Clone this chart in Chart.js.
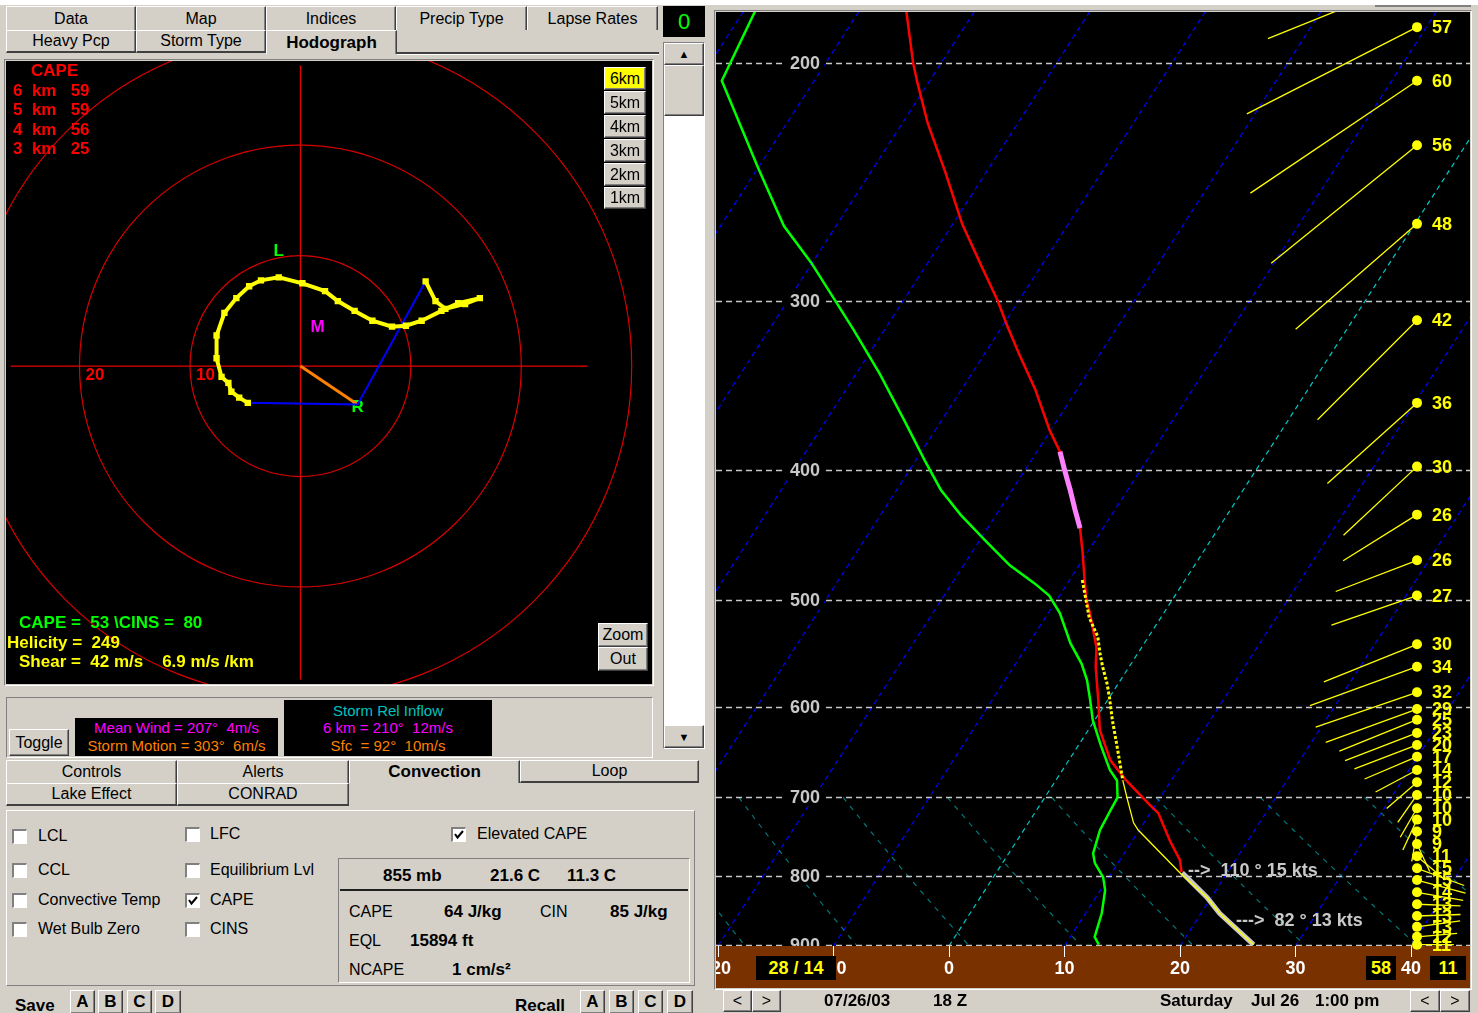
<!DOCTYPE html>
<html>
<head>
<meta charset="utf-8">
<title>Sounding - Hodograph</title>
<script src="https://cdn.jsdelivr.net/npm/chart.js@4.4.0/dist/chart.umd.min.js"></script>
<style>
  body{margin:0;width:1478px;height:1013px;background:#d4d0c8;position:relative;overflow:hidden;
       font-family:"Liberation Sans",Arial,sans-serif;color:#000;}
  .a{position:absolute;box-sizing:border-box;}
  .t{position:absolute;white-space:pre;line-height:1;}
  .b{font-weight:bold;}
  .raised{background:#d4d0c8;border-top:1px solid #fff;border-left:1px solid #fff;
          border-right:1px solid #404040;border-bottom:1px solid #404040;box-shadow:inset -1px -1px 0 #808080;}
  .sunken{border-top:1px solid #808080;border-left:1px solid #808080;border-right:1px solid #fff;border-bottom:1px solid #fff;}
  .btn{display:flex;align-items:center;justify-content:center;font-size:16px;}
  .tab{position:absolute;box-sizing:border-box;background:#d4d0c8;border-top:1px solid #fff;border-left:1px solid #fff;
       border-right:1px solid #404040;box-shadow:inset -1px 0 0 #808080;display:flex;align-items:center;justify-content:center;font-size:16px;}
  .cb{position:absolute;box-sizing:border-box;width:15px;height:15px;background:#fff;
      border-top:2px solid #808080;border-left:2px solid #808080;border-right:1px solid #fff;border-bottom:1px solid #fff;}
  .blk{position:absolute;box-sizing:border-box;background:#000;}
  canvas{position:absolute;display:block;}
</style>
</head>
<body>
<!-- window top strip -->
<div class="a" style="left:0;top:0;width:1478px;height:5px;background:#fff"></div>
<div class="a" style="left:1375px;top:5px;width:96px;height:2px;background:#808080"></div>

<!-- upper tab strip -->
<div class="tab" style="left:6px;top:6px;width:130px;height:24px">Data</div>
<div class="tab" style="left:136px;top:6px;width:130px;height:24px">Map</div>
<div class="tab" style="left:266px;top:6px;width:130px;height:24px">Indices</div>
<div class="tab" style="left:396px;top:6px;width:131px;height:24px">Precip Type</div>
<div class="tab" style="left:527px;top:6px;width:131px;height:24px">Lapse Rates</div>
<div class="tab" style="left:6px;top:30px;width:130px;height:23px;border-bottom:2px solid #404040">Heavy Pcp</div>
<div class="tab" style="left:136px;top:30px;width:130px;height:23px;border-bottom:2px solid #404040">Storm Type</div>
<div class="tab b" style="left:266px;top:30px;width:131px;height:24px;font-size:17px">Hodograph</div>
<div class="a" style="left:397px;top:52px;width:262px;height:2px;background:#404040"></div>
<div class="a" style="left:397px;top:54px;width:262px;height:1px;background:#fff"></div>

<div class="blk" style="left:663px;top:6px;width:42px;height:31px;display:flex;align-items:center;justify-content:center;color:#00ff00;font-size:22px">0</div>

<!-- hodograph display -->
<div class="a sunken" style="left:4px;top:59px;width:650px;height:627px"></div>
<canvas id="hodo" width="646" height="623" style="left:6px;top:61px"></canvas>

<div class="t b" style="left:31px;top:62px;font-size:17px;color:#ff0000">CAPE</div>
<div class="t b" style="left:13px;top:82px;font-size:17px;color:#ff0000">6  km   59</div>
<div class="t b" style="left:13px;top:101px;font-size:17px;color:#ff0000">5  km   59</div>
<div class="t b" style="left:13px;top:121px;font-size:17px;color:#ff0000">4  km   56</div>
<div class="t b" style="left:13px;top:140px;font-size:17px;color:#ff0000">3  km   25</div>

<div class="t b" style="left:19px;top:614px;font-size:17px;color:#00ff00">CAPE =  53 \CINS =  80</div>
<div class="t b" style="left:7px;top:634px;font-size:17px;color:#ffff00">Helicity =  249</div>
<div class="t b" style="left:19px;top:653px;font-size:17px;color:#ffff00">Shear =  42 m/s    6.9 m/s /km</div>

<!-- depth buttons -->
<div class="a raised btn" style="left:604px;top:67px;width:42px;height:23px;background:#ffff00">6km</div>
<div class="a raised btn" style="left:604px;top:91px;width:42px;height:23px">5km</div>
<div class="a raised btn" style="left:604px;top:115px;width:42px;height:23px">4km</div>
<div class="a raised btn" style="left:604px;top:139px;width:42px;height:23px">3km</div>
<div class="a raised btn" style="left:604px;top:163px;width:42px;height:23px">2km</div>
<div class="a raised btn" style="left:604px;top:187px;width:42px;height:22px">1km</div>
<div class="a raised btn" style="left:598px;top:623px;width:50px;height:24px">Zoom</div>
<div class="a raised btn" style="left:598px;top:647px;width:50px;height:24px">Out</div>

<!-- scroll bar -->
<div class="a sunken" style="left:663px;top:42px;width:42px;height:707px;background:#fff"></div>
<div class="a raised btn" style="left:664px;top:43px;width:40px;height:22px;font-size:11px">&#9650;</div>
<div class="a raised" style="left:664px;top:65px;width:40px;height:51px"></div>
<div class="a raised btn" style="left:664px;top:725px;width:40px;height:23px;font-size:11px">&#9660;</div>

<!-- storm motion panel -->
<div class="a sunken" style="left:6px;top:697px;width:647px;height:61px"></div>
<div class="a raised btn" style="left:9px;top:729px;width:60px;height:27px">Toggle</div>
<div class="blk" style="left:75px;top:718px;width:203px;height:38px"></div>
<div class="t" style="left:75px;top:720px;width:203px;text-align:center;font-size:15px;color:#ff00ff">Mean Wind = 207°  4m/s</div>
<div class="t" style="left:75px;top:738px;width:203px;text-align:center;font-size:15px;color:#ff8000">Storm Motion = 303°  6m/s</div>
<div class="blk" style="left:284px;top:700px;width:208px;height:56px"></div>
<div class="t" style="left:284px;top:703px;width:208px;text-align:center;font-size:15px;color:#00c0c0">Storm Rel Inflow</div>
<div class="t" style="left:284px;top:720px;width:208px;text-align:center;font-size:15px;color:#ff00ff">6 km = 210°  12m/s</div>
<div class="t" style="left:284px;top:738px;width:208px;text-align:center;font-size:15px;color:#ff8000">Sfc  = 92°  10m/s</div>

<!-- lower tab strip -->
<div class="tab" style="left:6px;top:760px;width:171px;height:23px">Controls</div>
<div class="tab" style="left:177px;top:760px;width:172px;height:23px">Alerts</div>
<div class="tab b" style="left:349px;top:760px;width:171px;height:23px;font-size:17px">Convection</div>
<div class="tab" style="left:520px;top:760px;width:179px;height:23px;border-bottom:2px solid #404040">Loop</div>
<div class="tab" style="left:6px;top:783px;width:171px;height:23px;border-bottom:2px solid #404040">Lake Effect</div>
<div class="tab" style="left:177px;top:783px;width:172px;height:23px;border-bottom:2px solid #404040">CONRAD</div>

<!-- convection options -->
<div class="a" style="left:6px;top:810px;width:689px;height:176px;border-top:1px solid #fff;border-left:1px solid #fff;border-right:1px solid #808080;border-bottom:1px solid #808080"></div>
<div class="cb" style="left:12px;top:829px"></div><div class="t" style="left:38px;top:828px;font-size:16px">LCL</div>
<div class="cb" style="left:12px;top:863px"></div><div class="t" style="left:38px;top:862px;font-size:16px">CCL</div>
<div class="cb" style="left:12px;top:893px"></div><div class="t" style="left:38px;top:892px;font-size:16px">Convective Temp</div>
<div class="cb" style="left:12px;top:922px"></div><div class="t" style="left:38px;top:921px;font-size:16px">Wet Bulb Zero</div>
<div class="cb" style="left:185px;top:827px"></div><div class="t" style="left:210px;top:826px;font-size:16px">LFC</div>
<div class="cb" style="left:185px;top:863px"></div><div class="t" style="left:210px;top:862px;font-size:16px">Equilibrium Lvl</div>
<div class="cb" style="left:185px;top:893px"><svg width="12" height="12" style="position:absolute;left:0;top:0"><polyline points="2,5 4.5,8.5 10,2" fill="none" stroke="#000" stroke-width="2"/></svg></div>
<div class="t" style="left:210px;top:892px;font-size:16px">CAPE</div>
<div class="cb" style="left:185px;top:922px"></div><div class="t" style="left:210px;top:921px;font-size:16px">CINS</div>
<div class="cb" style="left:451px;top:827px"><svg width="12" height="12" style="position:absolute;left:0;top:0"><polyline points="2,5 4.5,8.5 10,2" fill="none" stroke="#000" stroke-width="2"/></svg></div>
<div class="t" style="left:477px;top:826px;font-size:16px">Elevated CAPE</div>

<div class="a sunken" style="left:338px;top:858px;width:352px;height:125px"></div>
<div class="t b" style="left:383px;top:867px;font-size:17px">855 mb</div>
<div class="t b" style="left:490px;top:867px;font-size:17px">21.6 C</div>
<div class="t b" style="left:567px;top:867px;font-size:17px">11.3 C</div>
<div class="a" style="left:340px;top:889px;width:348px;height:2px;background:#202020"></div>
<div class="t" style="left:349px;top:904px;font-size:16px">CAPE</div>
<div class="t b" style="left:444px;top:903px;font-size:17px">64 J/kg</div>
<div class="t" style="left:540px;top:904px;font-size:16px">CIN</div>
<div class="t b" style="left:610px;top:903px;font-size:17px">85 J/kg</div>
<div class="t" style="left:349px;top:933px;font-size:16px">EQL</div>
<div class="t b" style="left:410px;top:932px;font-size:17px">15894 ft</div>
<div class="t" style="left:349px;top:962px;font-size:16px">NCAPE</div>
<div class="t b" style="left:452px;top:961px;font-size:17px">1 cm/s²</div>

<!-- save / recall -->
<div class="t b" style="left:15px;top:997px;font-size:17px">Save</div>
<div class="a raised btn b" style="left:70px;top:990px;width:25px;height:24px;font-size:17px">A</div>
<div class="a raised btn b" style="left:98px;top:990px;width:25px;height:24px;font-size:17px">B</div>
<div class="a raised btn b" style="left:127px;top:990px;width:25px;height:24px;font-size:17px">C</div>
<div class="a raised btn b" style="left:155px;top:990px;width:26px;height:24px;font-size:17px">D</div>
<div class="t b" style="left:515px;top:997px;font-size:17px">Recall</div>
<div class="a raised btn b" style="left:580px;top:990px;width:25px;height:24px;font-size:17px">A</div>
<div class="a raised btn b" style="left:609px;top:990px;width:25px;height:24px;font-size:17px">B</div>
<div class="a raised btn b" style="left:638px;top:990px;width:25px;height:24px;font-size:17px">C</div>
<div class="a raised btn b" style="left:667px;top:990px;width:26px;height:24px;font-size:17px">D</div>

<!-- skew-T panel -->
<div class="a sunken" style="left:714px;top:10px;width:758px;height:980px"></div>
<canvas id="skewt" width="754" height="976" style="left:716px;top:12px"></canvas>

<div class="t b" style="left:1188px;top:861px;font-size:18px;color:#c8c8c8">-->  110 ° 15 kts</div>
<div class="t b" style="left:1236px;top:911px;font-size:18px;color:#c8c8c8">--->  82 ° 13 kts</div>

<div class="blk" style="left:756px;top:956px;width:80px;height:24px;display:flex;align-items:center;justify-content:center;color:#ffff00;font-size:18px;font-weight:bold;white-space:pre">28 / 14</div>
<div class="blk" style="left:1366px;top:956px;width:30px;height:24px;display:flex;align-items:center;justify-content:center;color:#ffff00;font-size:18px;font-weight:bold">58</div>
<div class="blk" style="left:1430px;top:956px;width:36px;height:24px;display:flex;align-items:center;justify-content:center;color:#ffff00;font-size:18px;font-weight:bold">11</div>

<!-- time bar -->
<div class="a raised btn" style="left:723px;top:990px;width:29px;height:22px">&lt;</div>
<div class="a raised btn" style="left:752px;top:990px;width:29px;height:22px">&gt;</div>
<div class="t b" style="left:824px;top:992px;font-size:17px">07/26/03</div>
<div class="t b" style="left:933px;top:992px;font-size:17px">18 Z</div>
<div class="t b" style="left:1160px;top:992px;font-size:17px">Saturday</div>
<div class="t b" style="left:1251px;top:992px;font-size:17px">Jul 26</div>
<div class="t b" style="left:1315px;top:992px;font-size:17px">1:00 pm</div>
<div class="a raised btn" style="left:1410px;top:990px;width:30px;height:22px">&lt;</div>
<div class="a raised btn" style="left:1440px;top:990px;width:30px;height:22px">&gt;</div>

<script>
// ---------------- hodograph data (m/s, u east / v north) ----------------
const hodoU = [-4.76,-5.54,-6.25,-6.52,-7.14,-7.59,-7.59,-6.88,-5.80,-4.64,-3.57,-1.96,0.18,2.23,3.39,4.91,6.52,8.30,9.55,10.98,12.77,14.29,16.25,14.91,13.13,12.23,11.34];
const hodoV = [-3.33,-2.86,-2.32,-1.52,-0.98,0.71,2.77,4.82,6.16,7.23,7.77,8.04,7.50,6.79,5.89,5.00,4.11,3.57,3.66,4.11,5.00,5.71,6.16,5.63,5.18,5.89,7.68];
const stormMotion = [5.18, -3.48];
const meanWind = [1.82, 3.56];
const leftMover = [-1.96, 10.4];
const ringSpeeds = [10, 20, 30];
const ringLabels = ['10', '20'];

// ---------------- sounding data (hPa, deg C) ----------------
const tempP = [183,200,206.5,221.5,241,263,283,300,313,329,349,374,388,414,442,461,483,500,511,542,560,593,624,657,680,709,719,753,779,795];
const tempT = [-55.9,-52.4,-51.0,-47.8,-43.5,-39.2,-35.1,-31.8,-29.6,-26.9,-23.6,-20.1,-18.0,-15.0,-12.0,-10.4,-8.7,-7.4,-6.4,-3.9,-2.9,-0.8,1.0,3.6,6.1,9.5,10.7,13.2,15.2,16.0];
const layerP = [388,401,414,428,442];
const layerT = [-18.0,-16.5,-15.0,-13.5,-12.0];
const dewP = [183,206,239,264,281,315,340,368,394,414,432,451,471,486,496,511,538,557,573,593,613,640,668,680,700,715,740,770,783,802,820,853,888,900];
const dewT = [-69.0,-68.0,-60.0,-54.5,-50.1,-42.7,-37.9,-33.2,-29.2,-26.2,-23.1,-19.6,-16.0,-12.8,-10.9,-9.0,-6.4,-4.3,-2.9,-1.5,-0.2,1.9,4.1,5.3,6.3,6.4,6.6,7.3,8.0,9.5,10.4,11.4,12.1,12.9];
const parcelP = [680,703,731,740,796,830,853,900];
const parcelT = [5.8,7.3,9.1,9.9,15.9,19.6,21.6,26.3];
const ascentP = [483,515,532,547,560,576,590,613,640,662,680];
const ascentT = [-8.9,-6.2,-4.4,-3.3,-2.3,-1.0,0.0,1.5,3.3,4.7,5.8];
const sfcLayerP = [796,830,853,900];
const sfcLayerT = [16.1,19.6,21.6,26.3];

// winds: pressure, direction (deg), speed (kts)
const windP   = [173,188,206,230,263,310,357,398,432,467,496,539,560,585,602,613,627,640,653,668,682,697,713,727,742,758,774,790,806,823,840,857,873,888,900];
const windDir = [248,243,236,231,229,225,228,227,238,249,251,248,250,251,250,248,249,249,247,242,229,215,210,205,190,155,130,110,105,100,92,88,82,85,90];
const windSpd = [48,57,60,56,48,42,36,30,26,26,27,30,34,32,29,25,23,20,17,14,12,10,10,10,9,9,11,15,15,14,13,13,13,12,11];

const pressureLevels = [200,300,400,500,600,700,800,900];
const tempTicks = [-20,-10,0,10,20,30,40];
const isotherms = [-100,-90,-80,-70,-60,-50,-40,-30,-20,-10,0,10,20,30,40];
const adiabatsT1000 = [-20,-10,0,10,20,30,40,50,60];

// ---------------- diagram geometry ----------------
const P_BOT = 902, P_TOP = 183.2, SKEW = 32.73;
const X_MIN = -20.17, X_MAX = 45.11;
const skx = (t, p) => t + SKEW * Math.log(P_BOT / p);
const toPts = (P, T) => P.map((p, i) => ({ x: skx(T[i], p), y: p }));

Chart.defaults.font.family = '"Liberation Sans", Arial, sans-serif';

// ---------------- hodograph chart ----------------
const hodoPlugin = {
  id: 'hodoFrame',
  beforeDraw(chart) {
    const { ctx, width, height } = chart;
    ctx.save(); ctx.fillStyle = '#000'; ctx.fillRect(0, 0, width, height); ctx.restore();
  },
  beforeDatasetsDraw(chart) {
    const { ctx, chartArea: a, scales: { x, y } } = chart;
    const cx = x.getPixelForValue(0), cy = y.getPixelForValue(0);
    ctx.save();
    ctx.strokeStyle = '#d80000'; ctx.lineWidth = 1.2;
    ringSpeeds.forEach(r => {
      const rad = x.getPixelForValue(r) - cx;
      ctx.beginPath(); ctx.arc(cx, cy, rad, 0, Math.PI * 2); ctx.stroke();
    });
    ctx.strokeStyle = '#e80000';
    ctx.beginPath(); ctx.moveTo(cx, a.top); ctx.lineTo(cx, a.bottom); ctx.stroke();
    ctx.beginPath(); ctx.moveTo(a.left, cy); ctx.lineTo(a.right - 60, cy); ctx.stroke();
    ctx.font = 'bold 17px "Liberation Sans", Arial, sans-serif';
    ctx.textBaseline = 'top'; ctx.textAlign = 'left'; ctx.fillStyle = '#ff0000';
    ringLabels.forEach(lbl => {
      const r = Number(lbl);
      ctx.fillText(lbl, x.getPixelForValue(-r) + 6, cy + 1);
    });
    ctx.textAlign = 'center'; ctx.textBaseline = 'middle';
    ctx.fillStyle = '#00ff00';
    ctx.fillText('L', x.getPixelForValue(leftMover[0]), y.getPixelForValue(leftMover[1]));
    ctx.fillText('R', x.getPixelForValue(stormMotion[0]), y.getPixelForValue(stormMotion[1]) + 3);
    ctx.fillStyle = '#ff00ff';
    ctx.fillText('M', x.getPixelForValue(meanWind[0]) - 3, y.getPixelForValue(meanWind[1]) + 1);
    ctx.restore();
  }
};

const hodoTrace = hodoU.map((u, i) => ({ x: u, y: hodoV[i] }));
const first = hodoTrace[0], last = hodoTrace[hodoTrace.length - 1];
const sm = { x: stormMotion[0], y: stormMotion[1] };

new Chart(document.getElementById('hodo'), {
  type: 'scatter',
  data: { datasets: [
    { data: hodoTrace, showLine: true, borderColor: '#ffff00', borderWidth: 4, pointStyle: 'rect',
      pointRadius: 4.5, pointBackgroundColor: '#ffff00', pointBorderWidth: 0, tension: 0 },
    { data: [last, sm, first], showLine: true, borderColor: '#0000ff', borderWidth: 2, pointRadius: 0, tension: 0 },
    { data: [{ x: 0, y: 0 }, sm], showLine: true, borderColor: '#ff8000', borderWidth: 3, pointRadius: 0 }
  ] },
  options: {
    responsive: false, animation: false, devicePixelRatio: 1,
    layout: { padding: 0 },
    plugins: { legend: { display: false }, tooltip: { enabled: false } },
    scales: {
      x: { type: 'linear', min: -26.25, max: 31.43, display: false },
      y: { type: 'linear', min: -28.39, max: 27.23, display: false }
    }
  },
  plugins: [hodoPlugin]
});

// ---------------- skew-T chart ----------------
const skewPlugin = {
  id: 'skewFrame',
  beforeDraw(chart) {
    const { ctx, chartArea: a, width, height } = chart;
    ctx.save();
    ctx.fillStyle = '#000'; ctx.fillRect(0, 0, width, a.bottom);
    ctx.fillStyle = '#7a3100'; ctx.fillRect(0, a.bottom, width, height - a.bottom);
    ctx.restore();
  },
  beforeDatasetsDraw(chart) {
    const { ctx, chartArea: a, scales: { x, y } } = chart;
    ctx.save();
    ctx.beginPath(); ctx.rect(a.left, a.top, a.right - a.left, a.bottom - a.top); ctx.clip();
    const px = (t, p) => x.getPixelForValue(skx(t, p));
    // isotherms
    ctx.lineWidth = 1.2;
    ctx.setLineDash([5, 4]);
    isotherms.forEach(t => {
      ctx.strokeStyle = t === 0 ? '#00c8c8' : '#0000ff';
      ctx.beginPath();
      ctx.moveTo(px(t, P_BOT), y.getPixelForValue(P_BOT));
      ctx.lineTo(px(t, P_TOP), y.getPixelForValue(P_TOP));
      ctx.stroke();
    });
    // dry adiabats, lower troposphere
    ctx.strokeStyle = '#008080'; ctx.lineWidth = 1.1;
    ctx.setLineDash([5, 6]);
    adiabatsT1000.forEach(t0 => {
      ctx.beginPath();
      for (let p = 700; p <= P_BOT; p += 5) {
        const T = (t0 + 273.15) * Math.pow(p / 1000, 0.286) - 273.15;
        const X = px(T, p), Y = y.getPixelForValue(p);
        if (p === 700) ctx.moveTo(X, Y); else ctx.lineTo(X, Y);
      }
      ctx.stroke();
    });
    // isobars
    ctx.strokeStyle = '#c8c8c8'; ctx.lineWidth = 1.6;
    ctx.setLineDash([6, 4]);
    pressureLevels.forEach(p => {
      const Y = Math.round(y.getPixelForValue(p)) + 0.5;
      ctx.beginPath(); ctx.moveTo(a.left, Y); ctx.lineTo(a.right, Y); ctx.stroke();
    });
    ctx.setLineDash([]);
    ctx.font = 'bold 18px "Liberation Sans", Arial, sans-serif';
    ctx.textAlign = 'center'; ctx.textBaseline = 'middle';
    pressureLevels.forEach(p => {
      const Y = y.getPixelForValue(p);
      ctx.fillStyle = '#000'; ctx.fillRect(a.left + 70, Y - 9, 38, 18);
      ctx.fillStyle = '#c8c8c8'; ctx.fillText(String(p), a.left + 89, Y + 1);
    });
    ctx.restore();
  },
  afterDatasetsDraw(chart) {
    const { ctx, chartArea: a, scales: { y } } = chart;
    ctx.save();
    ctx.beginPath(); ctx.rect(a.left, a.top, a.right - a.left, a.bottom - a.top + 6); ctx.clip();
    const xd = a.right - 53;
    ctx.strokeStyle = '#ffff00'; ctx.fillStyle = '#ffff00'; ctx.lineWidth = 1.3;
    windP.forEach((p, i) => {
      const Y = y.getPixelForValue(p);
      const len = 3.35 * windSpd[i];
      const r = windDir[i] * Math.PI / 180;
      ctx.beginPath(); ctx.moveTo(xd, Y);
      ctx.lineTo(xd + len * Math.sin(r), Y - len * Math.cos(r)); ctx.stroke();
    });
    windP.forEach(p => {
      const Y = y.getPixelForValue(p);
      ctx.beginPath(); ctx.arc(xd, Y, 5, 0, Math.PI * 2); ctx.fill();
    });
    ctx.font = 'bold 18px "Liberation Sans", Arial, sans-serif';
    ctx.textAlign = 'left'; ctx.textBaseline = 'middle';
    windP.forEach((p, i) => {
      ctx.fillText(String(windSpd[i]), xd + 15, y.getPixelForValue(p) + 1);
    });
    ctx.restore();
  },
  afterDraw(chart) {
    const { ctx, chartArea: a, scales: { x } } = chart;
    ctx.save();
    ctx.strokeStyle = '#ffffff'; ctx.lineWidth = 1;
    tempTicks.forEach(t => {
      const X = Math.round(x.getPixelForValue(t)) + 0.5;
      ctx.beginPath(); ctx.moveTo(X, a.bottom); ctx.lineTo(X, a.bottom + 11); ctx.stroke();
    });
    ctx.restore();
  }
};

const line = (data, color, width, extra) => Object.assign({
  data, showLine: true, borderColor: color, borderWidth: width, pointRadius: 0, tension: 0, fill: false
}, extra || {});

new Chart(document.getElementById('skewt'), {
  type: 'scatter',
  data: { datasets: [
    line(toPts(parcelP, parcelT), '#ffff00', 1.3),
    line(toPts(ascentP, ascentT), '#ffff00', 3, { borderDash: [3, 2] }),
    line(toPts(layerP, layerT), '#ff80ff', 5),
    line(toPts(tempP, tempT), '#ff0000', 2.5),
    line(toPts(dewP, dewT), '#00ff00', 2.5),
    line(toPts(sfcLayerP, sfcLayerT), '#c8c8c8', 5)
  ] },
  options: {
    responsive: false, animation: false, devicePixelRatio: 1,
    layout: { padding: 0 },
    plugins: { legend: { display: false }, tooltip: { enabled: false } },
    scales: {
      x: {
        type: 'linear', min: X_MIN, max: X_MAX, position: 'bottom',
        afterBuildTicks: s => { s.ticks = tempTicks.map(v => ({ value: v })); },
        afterFit: s => { s.height = 42; s.paddingLeft = 0; s.paddingRight = 0; },
        grid: { display: false, drawTicks: false },
        border: { display: false },
        ticks: { color: '#ffffff', padding: 12, autoSkip: false, maxRotation: 0,
                 font: { weight: 'bold', size: 18 }, callback: v => String(v) }
      },
      y: { type: 'logarithmic', min: P_TOP, max: P_BOT, reverse: true, display: false }
    }
  },
  plugins: [skewPlugin]
});
</script>
</body>
</html>
